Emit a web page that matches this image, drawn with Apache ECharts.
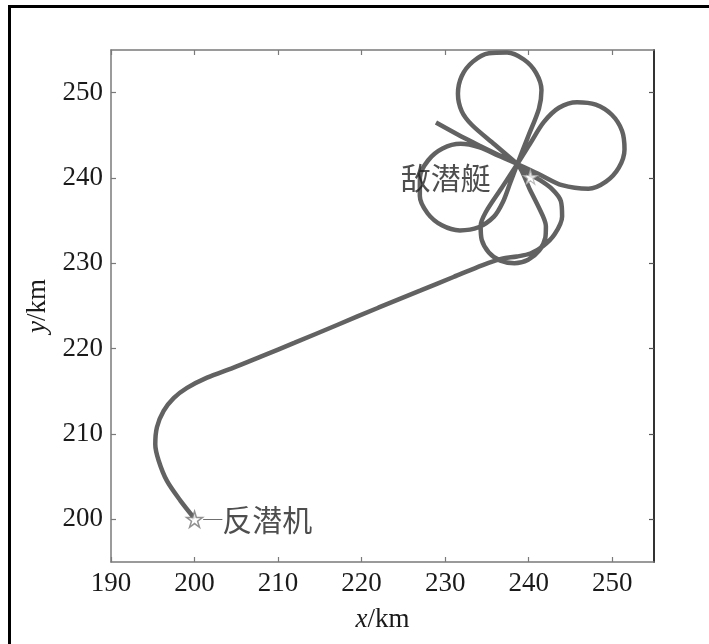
<!DOCTYPE html>
<html>
<head>
<meta charset="utf-8">
<script src="https://cdn.jsdelivr.net/npm/echarts@6/dist/echarts.min.js"></script>
<style>
html,body{margin:0;padding:0;background:#fff;}
#main{width:709px;height:644px;}
</style>
</head>
<body>
<div id="main"></div>
<script>
// Axis ticks
var xTicks = [190, 200, 210, 220, 230, 240, 250];
var yTicks = [200, 210, 220, 230, 240, 250];

// Trajectory pieces [x km, y km]
var approachLeg = [[200.0,200.1],[198.3,202.2],[196.7,204.5],[195.7,206.9],[195.3,208.8],[195.5,210.8],[196.3,212.7],[197.5,214.2],[199.1,215.4],[201.5,216.6],[204.6,217.75],[208,219.1],[212,220.7],[217,222.75],[222,224.8],[227,226.8],[231,228.4],[234.5,229.8],[236.8,230.55]];
var bottomOuterArc = [[238.6,230.8],[240.2,231.15],[241.7,232.0],[243.1,233.4],[244.0,235.5],[243.85,237.3],[242.8,238.7],[241.2,239.85],[240.0,240.5],[238.64,241.64]];
var topLoop = [[235.92,243.93],[233.21,246.21],[231.99,247.81],[231.53,249.88],[231.99,251.96],[233.32,253.64],[235.24,254.62],[237.41,254.71],[239.42,253.89],[240.88,252.33],[241.53,250.30],[241.23,248.14],[239.94,244.88],[238.64,241.64]];
var leftLoop = [[237.77,239.39],[236.9,237.15],[235.84,235.47],[233.99,234.23],[231.77,233.86],[229.61,234.45],[227.89,235.87],[226.97,237.88],[226.98,240.07],[227.95,242.05],[229.69,243.45],[231.86,244.0],[234.13,243.58],[236.38,242.61],[238.64,241.64]];
var rightLoop = [[241.31,240.41],[243.99,239.16],[247.15,238.74],[249.25,239.58],[250.79,241.22],[251.47,243.35],[251.17,245.54],[249.95,247.41],[248.03,248.60],[245.79,248.89],[243.62,248.23],[241.80,246.54],[240.21,244.09],[238.64,241.64]];
var bottomLoop = [[236.74,238.80],[234.84,235.96],[234.25,234.39],[234.38,232.74],[235.23,231.28],[236.61,230.31],[238.29,230.01],[239.94,230.43],[241.25,231.49],[241.99,233.0],[242.06,234.32],[241.69,235.55],[240.17,238.59],[238.64,241.64]];
var exitLeg = [[236.4,242.7],[234.07,243.82],[231.5,245.1],[228.9,246.5]];

var aswStart = [200, 200];
var subTarget = [240.2, 240.1];
var aswLabel = '反潜机';
var subLabel = '敌潜艇';

var trajectory = [].concat(approachLeg, bottomOuterArc, topLoop, leftLoop, rightLoop, bottomLoop, exitLeg);

var starPath = 'path://M50,0 L61.8,36.2 L100,36.2 L69.1,58.8 L80.9,95.1 L50,72.7 L19.1,95.1 L30.9,58.8 L0,36.2 L38.2,36.2 Z';
var serif = '"Liberation Serif","Times New Roman",serif';
var cjk = '"Noto Sans CJK SC","Noto Sans CJK JP",sans-serif';

var chart = echarts.init(document.getElementById('main'), null, {renderer: 'canvas'});

function baseAxis(extra) {
  var a = {
    type: 'value',
    splitLine: {show: false},
    axisLine: {show: true, onZero: false, lineStyle: {color: '#7a7a7a', width: 1.5}},
    axisTick: {show: true, inside: true, length: 5, lineStyle: {color: '#7a7a7a', width: 1.2}},
    axisLabel: {show: false}
  };
  for (var k in extra) a[k] = extra[k];
  return a;
}

chart.setOption({
  backgroundColor: '#fff',
  animation: false,
  grid: {left: 111, right: 55, top: 50, bottom: 82, containLabel: false},
  xAxis: [
    baseAxis({
      min: 190, max: 255, position: 'bottom',
      axisTick: {show: true, inside: true, length: 5, customValues: xTicks, lineStyle: {color: '#7a7a7a', width: 1.2}},
      axisLabel: {show: true, customValues: xTicks, margin: 8, color: '#1a1a1a', fontFamily: serif, fontSize: 27},
      name: '{i|x}/km', nameLocation: 'middle', nameGap: 44,
      nameTextStyle: {color: '#1a1a1a', fontFamily: serif, fontSize: 27,
        rich: {i: {fontStyle: 'italic', fontFamily: serif, fontSize: 27, color: '#1a1a1a'}}}
    }),
    baseAxis({
      min: 190, max: 255, position: 'top',
      axisTick: {show: true, inside: true, length: 5, customValues: xTicks, lineStyle: {color: '#7a7a7a', width: 1.2}}
    })
  ],
  yAxis: [
    baseAxis({
      min: 195, max: 255, position: 'left',
      axisTick: {show: true, inside: true, length: 5, customValues: yTicks, lineStyle: {color: '#7a7a7a', width: 1.2}},
      axisLabel: {show: true, customValues: yTicks, margin: 8, color: '#1a1a1a', fontFamily: serif, fontSize: 27},
      name: '{i|y}/km', nameLocation: 'middle', nameGap: 60, nameRotate: 90,
      nameTextStyle: {color: '#1a1a1a', fontFamily: serif, fontSize: 27,
        rich: {i: {fontStyle: 'italic', fontFamily: serif, fontSize: 27, color: '#1a1a1a'}}}
    }),
    baseAxis({
      min: 195, max: 255, position: 'right',
      axisLine: {show: true, onZero: false, lineStyle: {color: '#333', width: 2}},
      axisTick: {show: true, inside: true, length: 5, customValues: yTicks, lineStyle: {color: '#555', width: 1.2}}
    })
  ],
  graphic: [
    {type: 'line', shape: {x1: 9.5, y1: 5, x2: 9.5, y2: 644}, style: {stroke: '#000', lineWidth: 3}, silent: true},
    {type: 'line', shape: {x1: 8, y1: 6.5, x2: 709, y2: 6.5}, style: {stroke: '#000', lineWidth: 3}, silent: true}
  ],
  series: [
    {
      type: 'line',
      data: trajectory,
      showSymbol: false,
      smooth: 0.3,
      lineStyle: {color: '#626262', width: 4.5},
      z: 2
    },
    {
      type: 'scatter',
      data: [aswStart],
      symbol: starPath,
      symbolSize: 16,
      itemStyle: {color: '#fff', borderColor: '#777', borderWidth: 1.5},
      label: {
        show: true, position: 'right', distance: 0,
        formatter: '{d|—}{t|' + aswLabel + '}',
        rich: {
          d: {fontSize: 19, color: '#444', fontFamily: serif},
          t: {fontSize: 30, color: '#222', fontFamily: cjk}
        }
      },
      z: 3
    },
    {
      type: 'scatter',
      data: [subTarget],
      symbol: starPath,
      symbolSize: 14,
      itemStyle: {color: '#fff', borderColor: '#aaa', borderWidth: 1.2},
      label: {
        show: true, position: 'left', distance: 32,
        formatter: subLabel,
        fontSize: 30, color: '#222', fontFamily: cjk
      },
      z: 3
    }
  ]
});
</script>
</body>
</html>
